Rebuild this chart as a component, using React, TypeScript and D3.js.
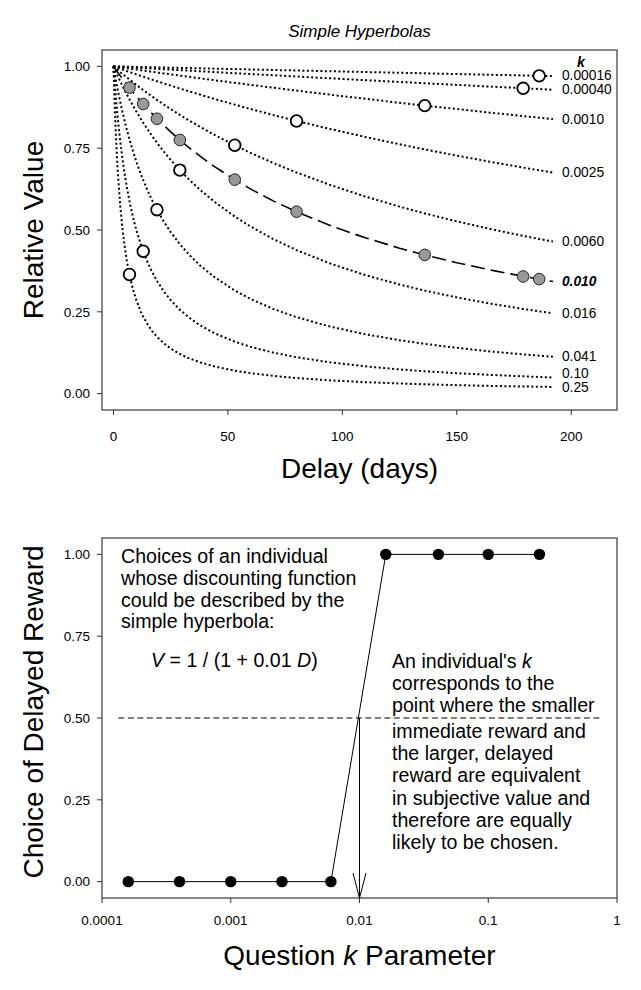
import React from "react";
import * as d3 from "d3";

// top panel: hyperbolic discount curves
const kValues = [0.00016, 0.0004, 0.001, 0.0025, 0.006, 0.01, 0.016, 0.041, 0.1, 0.25];
const kLabels = ["0.00016", "0.00040", "0.0010", "0.0025", "0.0060", "0.010", "0.016", "0.041", "0.10", "0.25"];
const kLabelValues = [0.972, 0.929, 0.839, 0.676, 0.465, 0.343, 0.246, 0.113, 0.064, 0.02];
const curveDelays = [0, 0.5, 1, 1.5, 2, 3, 4, 5, 6, 7, 8, 9, 10, 12, 13, 15, 17, 19, 22, 25, 29, 33, 38, 44, 53, 60, 70, 80, 95, 110, 125, 136, 150, 165, 179, 186, 192];

// open circles: indifference point for each question k
const openDelays = [186, 179, 136, 80, 53, 29, 19, 13, 7];
const openValues = [0.971, 0.933, 0.88, 0.833, 0.759, 0.683, 0.562, 0.435, 0.364];

// gray circles on k = 0.010
const grayDelays = [7, 13, 19, 29, 53, 80, 136, 179, 186];
const grayValues = [0.935, 0.885, 0.84, 0.775, 0.654, 0.556, 0.424, 0.358, 0.35];

const xTicksTop = [0, 50, 100, 150, 200];
const yTicks = [0, 0.25, 0.5, 0.75, 1];
const yTickLabels = ["0.00", "0.25", "0.50", "0.75", "1.00"];

// bottom panel: choices
const questionK = [0.00016, 0.0004, 0.001, 0.0025, 0.006, 0.016, 0.041, 0.1, 0.25];
const choices = [0, 0, 0, 0, 0, 1, 1, 1, 1];
const xTicksBot = [0.0001, 0.001, 0.01, 0.1, 1];
const xTickLabelsBot = ["0.0001", "0.001", "0.01", "0.1", "1"];

const leftText = [
  "Choices of an individual",
  "whose discounting function",
  "could be described by the",
  "simple hyperbola:",
];
const rightText1 = ["corresponds to the", "point where the smaller"];
const rightText2 = [
  "immediate reward and",
  "the larger, delayed",
  "reward are equivalent",
  "in subjective value and",
  "therefore are equally",
  "likely to be chosen.",
];

const font = "'Liberation Sans', Arial, sans-serif";

export default function App() {
  const left = 102,
    right = 617;
  const top1 = 50,
    bot1 = 410;
  const top2 = 538,
    bot2 = 898;

  const xTop = d3.scaleLinear().domain([-5, 220]).range([left, right]);
  const yTop = d3.scaleLinear().domain([-0.05, 1.05]).range([bot1, top1]);
  const xBot = d3.scaleLog().domain([0.0001, 1]).range([left, right]);
  const yBot = d3.scaleLinear().domain([-0.05, 1.05]).range([bot2, top2]);

  const curve = (k: number) =>
    d3
      .line<number>()
      .x((d) => xTop(d))
      .y((d) => yTop(1 / (1 + k * d)))(curveDelays);

  const choiceLine = d3
    .line<number>()
    .x((d, i) => xBot(questionK[i]))
    .y((d) => yBot(d))(choices);

  const lastD = curveDelays[curveDelays.length - 1];
  const arrowX = xBot(0.01);

  return (
    <svg
      width={641}
      height={990}
      style={{ position: "absolute", left: 0, top: 0, background: "#fff" }}
      fontFamily={font}
    >
      {/* top panel */}
      <text x={(left + right) / 2} y={37} fontSize={17} fontStyle="italic" textAnchor="middle">
        Simple Hyperbolas
      </text>
      <rect x={left} y={top1} width={right - left} height={bot1 - top1} fill="none" stroke="#555" strokeWidth={1.4} />
      {yTicks.map((t, i) => (
        <g key={"yt" + t}>
          <line x1={left - 5} x2={left} y1={yTop(t)} y2={yTop(t)} stroke="#333" />
          <text x={left - 12} y={yTop(t)} dy="0.35em" fontSize={13.5} textAnchor="end">
            {yTickLabels[i]}
          </text>
        </g>
      ))}
      {xTicksTop.map((t) => (
        <g key={"xt" + t}>
          <line x1={xTop(t)} x2={xTop(t)} y1={bot1} y2={bot1 + 5} stroke="#333" />
          <text x={xTop(t)} y={bot1 + 31} fontSize={13.5} textAnchor="middle">
            {t}
          </text>
        </g>
      ))}
      <text x={(left + right) / 2} y={bot1 + 68} fontSize={28} textAnchor="middle">
        Delay (days)
      </text>
      <text transform={`translate(43,${(top1 + bot1) / 2}) rotate(-90)`} fontSize={28} textAnchor="middle">
        Relative Value
      </text>

      {kValues.map((k) => (
        <path
          key={"c" + k}
          d={curve(k) || ""}
          fill="none"
          stroke="#000"
          strokeWidth={k === 0.01 ? 1.6 : 2}
          strokeDasharray={k === 0.01 ? "14,6" : "2,2.5"}
        />
      ))}
      {kLabels.map((l, i) => (
        <text
          key={"kl" + l}
          x={xTop(lastD) + 9}
          y={yTop(kLabelValues[i])}
          dy="0.35em"
          fontSize={13.8}
          fontWeight={l === "0.010" ? "bold" : "normal"}
          fontStyle={l === "0.010" ? "italic" : "normal"}
        >
          {l}
        </text>
      ))}
      <text x={581} y={67} fontSize={14} fontWeight="bold" fontStyle="italic" textAnchor="middle">
        k
      </text>
      {openDelays.map((d, i) => (
        <circle key={"o" + i} cx={xTop(d)} cy={yTop(openValues[i])} r={5.8} fill="#fff" stroke="#000" strokeWidth={1.8} />
      ))}
      {grayDelays.map((d, i) => (
        <circle key={"g" + i} cx={xTop(d)} cy={yTop(grayValues[i])} r={5.8} fill="#999" stroke="#222" strokeWidth={1} />
      ))}

      {/* bottom panel */}
      <rect x={left} y={top2} width={right - left} height={bot2 - top2} fill="none" stroke="#555" strokeWidth={1.4} />
      {yTicks.map((t, i) => (
        <g key={"yb" + t}>
          <line x1={left - 5} x2={left} y1={yBot(t)} y2={yBot(t)} stroke="#333" />
          <text x={left - 12} y={yBot(t)} dy="0.35em" fontSize={13.5} textAnchor="end">
            {yTickLabels[i]}
          </text>
        </g>
      ))}
      {xTicksBot.map((t, i) => (
        <g key={"xb" + t}>
          <line x1={xBot(t)} x2={xBot(t)} y1={bot2} y2={bot2 + 5} stroke="#333" />
          <text x={xBot(t)} y={bot2 + 27} fontSize={13.5} textAnchor="middle">
            {xTickLabelsBot[i]}
          </text>
        </g>
      ))}
      <text x={(left + right) / 2} y={bot2 + 67} fontSize={28} textAnchor="middle">
        Question <tspan fontStyle="italic">k</tspan> Parameter
      </text>
      <text transform={`translate(43,712) rotate(-90)`} fontSize={28} textAnchor="middle">
        Choice of Delayed Reward
      </text>

      <line
        x1={xBot(0.000134)}
        x2={xBot(0.74)}
        y1={yBot(0.5)}
        y2={yBot(0.5)}
        stroke="#000"
        strokeWidth={1}
        strokeDasharray="6,3.5"
      />
      <path d={choiceLine || ""} fill="none" stroke="#000" strokeWidth={1} />
      {questionK.map((k, i) => (
        <circle key={"b" + k} cx={xBot(k)} cy={yBot(choices[i])} r={5.7} fill="#000" />
      ))}
      <line x1={arrowX} x2={arrowX} y1={yBot(0.5)} y2={bot2} stroke="#000" strokeWidth={1} />
      <path
        d={`M${arrowX - 6.5},${bot2 - 25}L${arrowX},${bot2}L${arrowX + 6.5},${bot2 - 25}`}
        fill="none"
        stroke="#000"
        strokeWidth={1}
      />

      <g fontSize={19.6}>
        {leftText.map((l, i) => (
          <text key={"lt" + i} x={121} y={563 + i * 21.8}>
            {l}
          </text>
        ))}
        <text x={151} y={667}>
          <tspan fontStyle="italic">V</tspan> = 1 / (1 + 0.01 <tspan fontStyle="italic">D</tspan>)
        </text>
        <text x={392} y={668}>
          An individual's <tspan fontStyle="italic">k</tspan>
        </text>
        {rightText1.map((l, i) => (
          <text key={"r1" + i} x={392} y={690 + i * 22}>
            {l}
          </text>
        ))}
        {rightText2.map((l, i) => (
          <text key={"r2" + i} x={392} y={738 + i * 22.2}>
            {l}
          </text>
        ))}
      </g>
    </svg>
  );
}
